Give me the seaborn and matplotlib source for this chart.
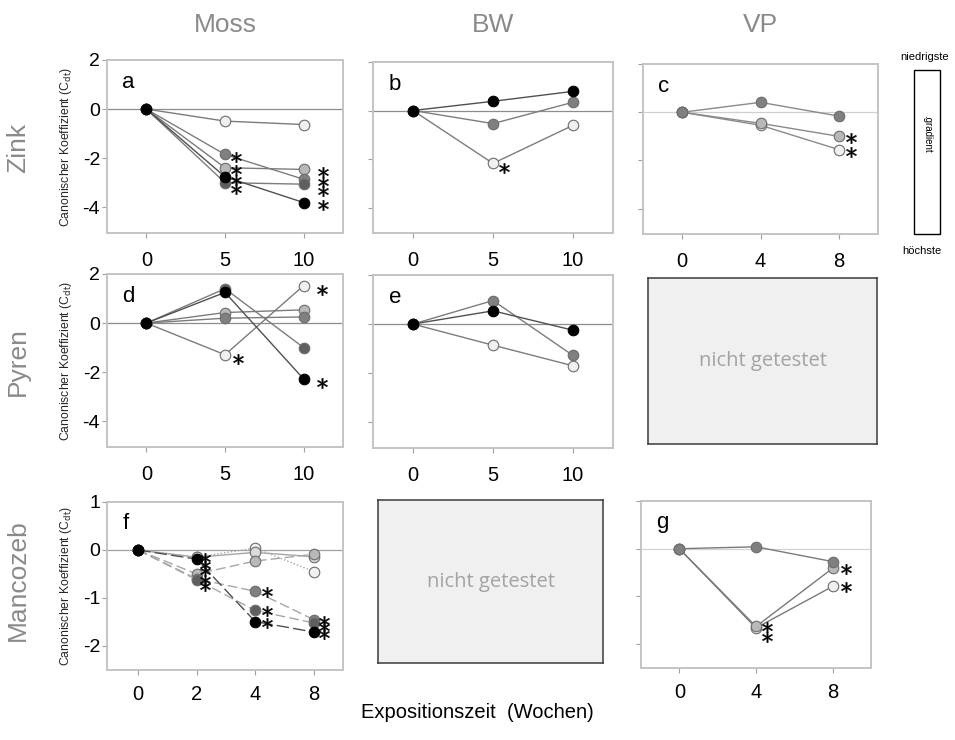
import matplotlib
matplotlib.use("Agg")
import matplotlib.pyplot as plt
import matplotlib.patches as mpatches
import seaborn as sns

# ---------------------------------------------------------------- data
weeks_long = [0, 5, 10]          # Moss / BW exposure times
weeks_vp = [0, 4, 8]             # VP exposure times
weeks_manc = ["0", "2", "4", "8"]  # Mancozeb (Moss) exposure times
weeks_manc_vp = ["0", "4", "8"]

# a: Zink, Moss
a_white = [0, -0.49, -0.63]
a_light = [0, -2.39, -2.46]
a_mid = [0, -1.85, -2.86]
a_dark = [0, -3.00, -3.06]
a_black = [0, -2.76, -3.81]

# b: Zink, BW
b_white = [0, -2.18, -0.61]
b_mid = [0, -0.54, 0.34]
b_black = [0, 0.38, 0.79]

# c: Zink, VP
c_white = [0, -0.54, -1.55]
c_light = [0, -0.46, -1.00]
c_mid = [0, 0.41, -0.16]

# d: Pyren, Moss
d_white = [0, -1.29, 1.53]
d_light = [0, 0.43, 0.54]
d_mid = [0, 0.20, 0.25]
d_dark = [0, 1.40, -1.00]
d_black = [0, 1.25, -2.28]

# e: Pyren, BW
e_white = [0, -0.86, -1.70]
e_mid = [0, 0.96, -1.28]
e_black = [0, 0.54, -0.25]

# f: Mancozeb, Moss
f_white = [0, -0.15, 0.04, -0.45]
f_pale = [0, -0.15, -0.05, -0.14]
f_light = [0, -0.50, -0.23, -0.09]
f_mid = [0, -0.60, -0.86, -1.45]
f_dark = [0, -0.62, -1.26, -1.52]
f_black = [0, -0.19, -1.49, -1.71]

# g: Mancozeb, VP
g_white = [0, -1.66, -0.79]
g_light = [0, -1.63, -0.41]
g_mid = [0, 0.04, -0.27]

# significant time points (index into the time axis) per series
a_sig = {"light": [1, 2], "mid": [1, 2], "dark": [1, 2], "black": [1, 2]}
b_sig = {"white": [1]}
c_sig = {"white": [2], "light": [2]}
d_sig = {"white": [1, 2], "black": [2]}
f_sig = {"pale": [1], "white": [1], "black": [1, 2, 3], "mid": [1, 2, 3], "dark": [1, 2, 3]}
g_sig = {"white": [1, 2], "light": [1, 2]}

col_titles = ["Moss", "BW", "VP"]
row_titles = ["Zink", "Pyren", "Mancozeb"]
ylab = r"Canonischer Koeffizient (C$_{\mathrm{dt}}$)"

# ---------------------------------------------------------------- style
sns.set_theme(style="white")
plt.rcParams["font.family"] = ["Liberation Sans", "DejaVu Sans"]

FACE = {"white": "#f0f0f0", "pale": "#dadada", "light": "#b8b8b8",
        "mid": "#808080", "dark": "#5f5f5f", "black": "#000000"}
TITLE_GREY = "#8a8a8a"

W, H = 955, 740
fig = plt.figure(figsize=(W / 100, H / 100), dpi=100)


def add_ax(l, t, r, b):
    return fig.add_axes([l / W, 1 - b / H, (r - l) / W, (b - t) / H])


def style_ax(ax, xlim, ylim, yticks, xticks, xlabels, show_y, xpad):
    ax.set_xlim(*xlim)
    ax.set_ylim(*ylim)
    ax.set_yticks(yticks)
    ax.set_xticks(xticks)
    ax.set_xticklabels(xlabels)
    if show_y:
        ax.set_yticklabels([f"{t:g}" for t in yticks])
    else:
        ax.set_yticklabels([])
    ax.set_xlabel("")
    ax.set_ylabel("")
    for s in ax.spines.values():
        s.set_color("#c4c4c4")
        s.set_linewidth(1.4)
    ax.tick_params(axis="both", direction="out", length=3.5, width=0.8,
                   color="#a0a0a0", labelcolor="black")
    ax.tick_params(axis="x", labelsize=14.5, pad=xpad, bottom=True)
    ax.tick_params(axis="y", labelsize=14, pad=1.5, left=True)
    ax.set_facecolor("white")


def draw_series(ax, x, y, key, ls="-", line="#7c7c7c", z=2):
    edge = "#000000" if key == "black" else "#6c6c6c"
    lc = "#505050" if key == "black" else line
    sns.lineplot(x=x, y=y, ax=ax, color=lc, linewidth=1.0, linestyle=ls,
                 marker="o", markersize=7.6, markerfacecolor=FACE[key],
                 markeredgecolor=edge, markeredgewidth=0.8, zorder=z,
                 legend=False, sort=False)


def draw_stars(ax, xpos, data, sig, dx_px, dy_px=-3.0, gap_px=8.5):
    x0, x1 = ax.get_xlim()
    y0, y1 = ax.get_ylim()
    bb = ax.get_window_extent()
    ppx = bb.width / (x1 - x0)
    ppy = bb.height / (y1 - y0)
    sx, sy = [], []
    for j, xv in enumerate(xpos):
        vals = sorted([data[k][j] for k, idx in sig.items() if j in idx],
                      reverse=True)
        prev = None
        for v in vals:
            yv = v + dy_px / ppy
            if prev is not None:
                yv = min(yv, prev - gap_px / ppy)
            prev = yv
            d = dx_px[j] if isinstance(dx_px, (list, tuple)) else dx_px
            sx.append(xv + d / ppx)
            sy.append(yv)
    ax.scatter(sx, sy, marker="$*$", s=56, color="black",
               edgecolors="black", linewidths=0.35, zorder=6, clip_on=False)


def letter(ax, s):
    ax.text(0.065, 0.87, s, transform=ax.transAxes, fontsize=16,
            ha="left", va="center", color="black")


def zero(ax, c="#8c8c8c"):
    ax.axhline(0, color=c, lw=0.9, zorder=1)


def untested(l, t, r, b):
    ax = fig.add_axes([l / W, 1 - b / H, (r - l) / W, (b - t) / H])
    ax.set_xticks([])
    ax.set_yticks([])
    ax.set_facecolor("#f0f0f0")
    for s in ax.spines.values():
        s.set_color("#3a3a3a")
        s.set_linewidth(1.1)
    ax.text(0.5, 0.5, "nicht getestet", transform=ax.transAxes,
            ha="center", va="center", fontsize=14.5, color="#a3a3a3",
            family=["Open Sans", "DejaVu Sans"])


YT_BIG = [2, 0, -2, -4]
YL_BIG = (-5.05, 2.0)
XL_LONG = (-2.5, 12.5)

# ---------------------------------------------------------------- a
ax = add_ax(107, 60, 343, 233)
zero(ax)
data = {"white": a_white, "light": a_light, "mid": a_mid,
        "dark": a_dark, "black": a_black}
for k in ["white", "light", "mid", "dark", "black"]:
    draw_series(ax, weeks_long, data[k], k)
style_ax(ax, XL_LONG, YL_BIG, YT_BIG, weeks_long,
         [str(w) for w in weeks_long], True, 9.5)
draw_stars(ax, weeks_long, data, a_sig, [0, 11, 19], dy_px=-2.5, gap_px=9.5)
letter(ax, "a")
ax.set_ylabel(ylab, fontsize=8.8, labelpad=6)

# ---------------------------------------------------------------- b
ax = add_ax(373, 62, 613, 233)
zero(ax)
data = {"white": b_white, "mid": b_mid, "black": b_black}
for k in ["white", "mid", "black"]:
    draw_series(ax, weeks_long, data[k], k)
style_ax(ax, XL_LONG, YL_BIG, YT_BIG, weeks_long,
         [str(w) for w in weeks_long], False, 9.5)
draw_stars(ax, weeks_long, data, b_sig, 11, dy_px=-5)
letter(ax, "b")

# ---------------------------------------------------------------- c
ax = add_ax(643, 64, 878, 234)
zero(ax, "#cfcfcf")
data = {"white": c_white, "light": c_light, "mid": c_mid}
for k in ["white", "light", "mid"]:
    draw_series(ax, weeks_vp, data[k], k, line="#8a8a8a")
style_ax(ax, (-2, 10), YL_BIG, YT_BIG, weeks_vp,
         [str(w) for w in weeks_vp], False, 9.5)
draw_stars(ax, weeks_vp, data, c_sig, 12, dy_px=-2)
letter(ax, "c")

# ---------------------------------------------------------------- d
ax = add_ax(107, 274, 343, 447)
zero(ax)
data = {"white": d_white, "light": d_light, "mid": d_mid,
        "dark": d_dark, "black": d_black}
for k in ["white", "light", "mid", "dark", "black"]:
    draw_series(ax, weeks_long, data[k], k)
style_ax(ax, XL_LONG, YL_BIG, YT_BIG, weeks_long,
         [str(w) for w in weeks_long], True, 9.5)
draw_stars(ax, weeks_long, data, d_sig, [0, 13, 18], dy_px=-4)
letter(ax, "d")
ax.set_ylabel(ylab, fontsize=8.8, labelpad=6)

# ---------------------------------------------------------------- e
ax = add_ax(373, 275, 613, 448)
zero(ax)
data = {"white": e_white, "mid": e_mid, "black": e_black}
for k in ["white", "mid", "black"]:
    draw_series(ax, weeks_long, data[k], k)
style_ax(ax, XL_LONG, YL_BIG, YT_BIG, weeks_long,
         [str(w) for w in weeks_long], False, 9.5)
letter(ax, "e")

# ---------------------------------------------------------------- f
ax = add_ax(107, 502, 343, 670)
zero(ax, "#a0a0a0")
xf = list(range(len(weeks_manc)))
data = {"white": f_white, "pale": f_pale, "light": f_light,
        "mid": f_mid, "dark": f_dark, "black": f_black}
styles = {"white": (0, (1, 1.5)), "pale": "-", "light": (0, (7, 3)),
          "mid": (0, (7, 3)), "dark": (0, (7, 3)), "black": (0, (9, 3))}
for k in ["white", "pale", "light", "mid", "dark", "black"]:
    draw_series(ax, xf, data[k], k, ls=styles[k], line="#a6a6a6")
style_ax(ax, (-0.53, 3.5), (-2.5, 1.0), [1, 0, -1, -2], xf, weeks_manc,
         True, 7)
draw_stars(ax, xf, data, f_sig, [0, 8, 12, 10], dy_px=-1, gap_px=6.5)
letter(ax, "f")
ax.set_ylabel(ylab, fontsize=8.8, labelpad=6)

# ---------------------------------------------------------------- g
ax = add_ax(641, 501, 871, 668)
zero(ax, "#d2d2d2")
xg = list(range(len(weeks_manc_vp)))
data = {"white": g_white, "light": g_light, "mid": g_mid}
for k in ["white", "light", "mid"]:
    draw_series(ax, xg, data[k], k, line="#7a7a7a")
style_ax(ax, (-0.5, 2.5), (-2.5, 1.0), [1, 0, -1, -2], xg, weeks_manc_vp,
         False, 7)
draw_stars(ax, xg, data, g_sig, [0, 11, 13], dy_px=-1, gap_px=10)
letter(ax, "g")

# ---------------------------------------------------------------- untested
untested(648, 278, 877, 444)
untested(378, 500, 603, 663)

# ---------------------------------------------------------------- titles
for name, cx in zip(col_titles, [225, 493, 760]):
    fig.text(cx / W, 1 - 25 / H, name, ha="center", va="center",
             fontsize=19, color=TITLE_GREY)
for name, cy in zip(row_titles, [148, 362, 580]):
    fig.text(18 / W, 1 - cy / H, name, ha="center", va="center",
             rotation=90, fontsize=19, color=TITLE_GREY)
fig.text(477 / W, 1 - 712 / H, "Expositionszeit  (Wochen)", ha="center",
         va="center", fontsize=14.5, color="black")

# ---------------------------------------------------------------- scale box
fig.patches.append(mpatches.Rectangle((914 / W, 1 - 234 / H), 26 / W,
                                      164 / H, transform=fig.transFigure,
                                      facecolor="white", edgecolor="black",
                                      linewidth=1.0))
fig.text(925 / W, 1 - 57 / H, "niedrigste", ha="center", va="center",
         fontsize=8, color="black")
fig.text(922 / W, 1 - 251 / H, "höchste", ha="center", va="center",
         fontsize=8, color="black")
fig.text(927 / W, 1 - 134 / H, ".gradient", ha="center", va="center",
         rotation=270, fontsize=7, color="black")

fig.savefig("out.png", dpi=100)
